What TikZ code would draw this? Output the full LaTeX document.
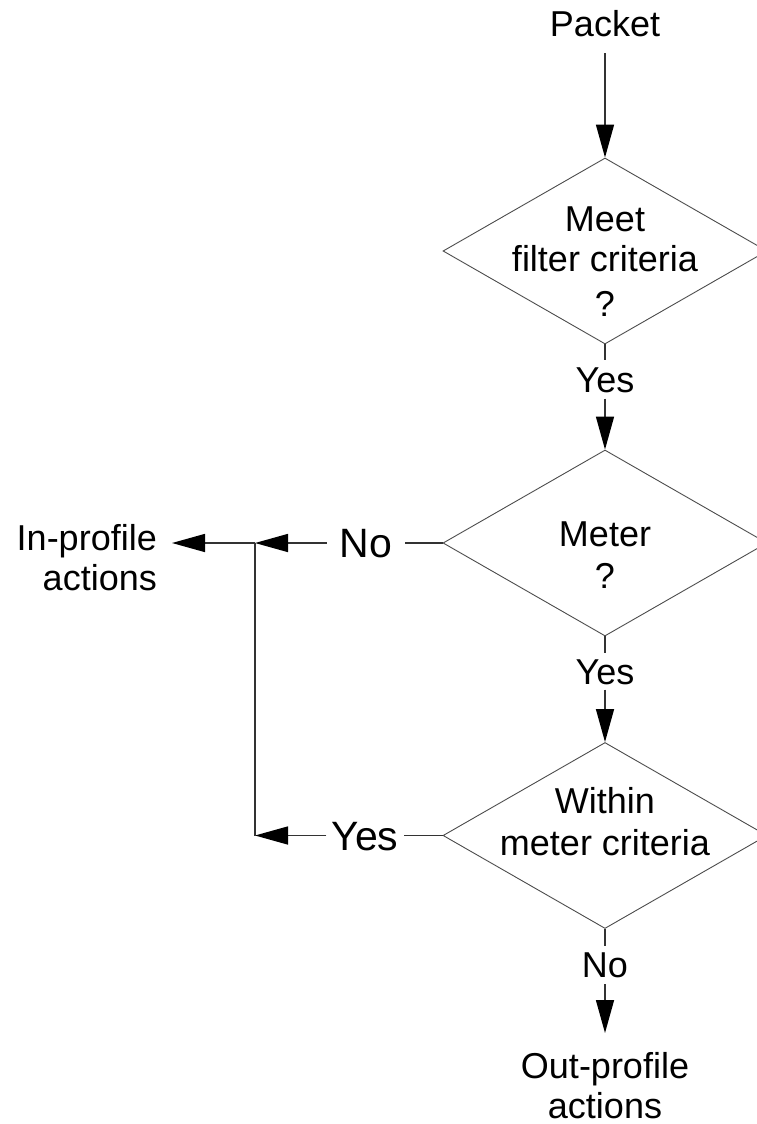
\documentclass[tikz,border=0pt]{standalone}
\usepackage{fontspec}
\setmainfont{Liberation Sans}
\usetikzlibrary{shapes.geometric,arrows.meta}
\begin{document}
\begin{tikzpicture}[x=1pt,y=-1pt,
  dia/.style={draw=black!70, line width=0.9pt, shape=diamond, minimum width=324pt, minimum height=186pt, inner sep=0pt},
  txt/.style={font=\fontsize{36}{40}\selectfont, inner sep=0pt, align=center},
  lbl/.style={font=\fontsize{36}{40}\selectfont, text height=25.8pt, text depth=0pt, inner xsep=0pt},
  slbl/.style={font=\fontsize{41}{46}\selectfont, text height=29.4pt, text depth=0pt, inner ysep=0pt},
  conn/.style={draw=black!80, line width=1.5pt},
  arr/.style={conn, -{Triangle[length=33pt,width=18pt,color=black]}}
]
\useasboundingbox (0,0) rectangle (757,1124);
\clip (0,0) rectangle (757,1124);

\node[lbl, inner ysep=16.5pt] (packet) at (605,23.5) {Packet};
\node[dia] (d1) at (605,251) {};
\node[txt, anchor=north] (t1) at (605,207) {Meet\\filter criteria\\[5pt]?};
\node[lbl, inner ysep=6pt] (yes1) at (605,379.5) {Yes};
\node[dia] (d2) at (605,543) {};
\node[txt, anchor=north] (t2) at (605,522) {Meter\\[2pt]?};
\node[lbl, inner ysep=5pt] (yes2) at (605,671.5) {Yes};
\node[dia] (d3) at (605,835.5) {};
\node[txt, anchor=north] (t3) at (605,787) {Within\\[2pt]meter criteria};
\node[lbl, inner ysep=6pt] (no3) at (605,965) {No};
\node[txt, anchor=north, inner ysep=19pt] (out) at (605,1033) {Out-profile\\actions};
\node[slbl, inner xsep=13pt] (no2) at (366,543) {No};
\node[slbl, inner xsep=5pt] (yes3) at (365,835.5) {Yes};
\node[txt, align=right, anchor=north east, inner xsep=15pt] (inp) at (172,524) {In-profile\\actions};
\coordinate (J) at (255,543);
\coordinate (K) at (255,835.5);

\draw[arr] (packet) -- (d1.north);
\draw[conn] (d1.south) -- (yes1);
\draw[arr] (yes1) -- (d2.north);
\draw[conn] (d2.south) -- (yes2);
\draw[arr] (yes2) -- (d3.north);
\draw[conn] (d3.south) -- (no3);
\draw[arr] (no3) -- (out);
\draw[conn] (d2.west) -- (no2);
\draw[arr] (no2) -- (J);
\draw[arr] (J) -- (J -| inp.east);
\draw[conn] (d3.west) -- (yes3);
\draw[arr] (yes3) -- (K);
\draw[conn] (J) -- (K);
\end{tikzpicture}
\end{document}
